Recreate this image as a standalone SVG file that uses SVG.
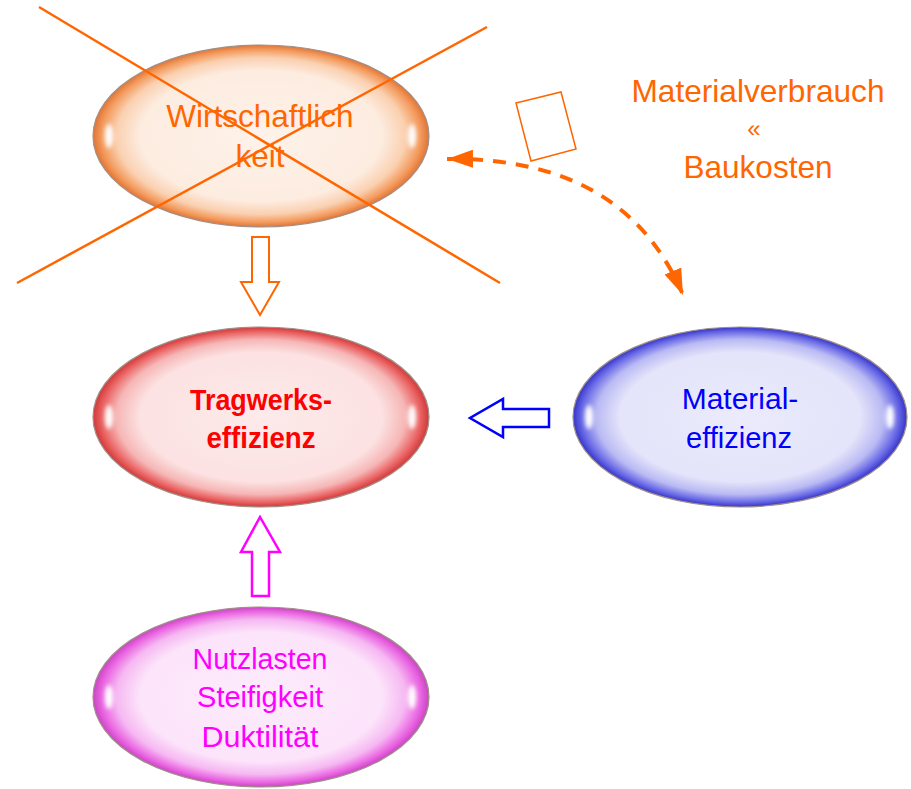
<svg xmlns="http://www.w3.org/2000/svg" width="911" height="789" viewBox="0 0 911 789">
<style>
  text { font-family: "Liberation Sans", Arial, sans-serif; text-anchor: middle; }
  .node-shape { stroke: #a09088; stroke-width: 1.2; }
  .hl { fill: #ffffff; filter: url(#blur); }
  .orange { fill: #FF6600; }
  .conn-outline { fill: #ffffff; stroke-linejoin: miter; }
</style>
<defs>
  <filter id="blur" x="-2" y="-1" width="5" height="3"><feGaussianBlur stdDeviation="2.2"/></filter>
  <radialGradient id="gOrange" cx="0.5" cy="0.5" r="0.5">
    <stop offset="0" stop-color="#FEF2EA"/>
    <stop offset="0.72" stop-color="#FDECE0"/>
    <stop offset="0.86" stop-color="#FAD0B0"/>
    <stop offset="0.95" stop-color="#F39A5C"/>
    <stop offset="1" stop-color="#E07436"/>
  </radialGradient>
  <radialGradient id="gRed" cx="0.5" cy="0.5" r="0.5">
    <stop offset="0" stop-color="#FDEAEA"/>
    <stop offset="0.72" stop-color="#FCE2E2"/>
    <stop offset="0.86" stop-color="#F6B6B6"/>
    <stop offset="0.95" stop-color="#EA6262"/>
    <stop offset="1" stop-color="#D03838"/>
  </radialGradient>
  <radialGradient id="gBlue" cx="0.5" cy="0.5" r="0.5">
    <stop offset="0" stop-color="#EBEBFC"/>
    <stop offset="0.72" stop-color="#E4E4FA"/>
    <stop offset="0.86" stop-color="#BABAF4"/>
    <stop offset="0.95" stop-color="#6868E6"/>
    <stop offset="1" stop-color="#3434C8"/>
  </radialGradient>
  <radialGradient id="gMagenta" cx="0.5" cy="0.5" r="0.5">
    <stop offset="0" stop-color="#FDEBFC"/>
    <stop offset="0.72" stop-color="#FCE4FA"/>
    <stop offset="0.86" stop-color="#F6B8F2"/>
    <stop offset="0.95" stop-color="#EA66E2"/>
    <stop offset="1" stop-color="#C844C2"/>
  </radialGradient>
  <marker id="head" viewBox="0 0 26 18" refX="26" refY="9" markerWidth="26" markerHeight="18" markerUnits="userSpaceOnUse" orient="auto-start-reverse">
    <path d="M0,0 L26,9 L0,18 z" fill="#FF6600"/>
  </marker>
</defs>

<g id="node-wirtschaftlichkeit">
  <ellipse class="node-shape" cx="261" cy="136" rx="168" ry="91" fill="url(#gOrange)"/>
  <ellipse class="hl" cx="109" cy="136" rx="4" ry="12"/>
  <ellipse class="hl" cx="412" cy="136" rx="4" ry="12"/>
  <text x="260" y="127" font-size="31.5" fill="#FF6600">Wirtschaftlich</text>
  <text x="260" y="167" font-size="31.5" fill="#FF6600">keit</text>
</g>

<g id="node-tragwerkseffizienz">
  <ellipse class="node-shape" cx="261" cy="417" rx="168" ry="90" fill="url(#gRed)"/>
  <ellipse class="hl" cx="109" cy="417" rx="4" ry="12"/>
  <ellipse class="hl" cx="412" cy="417" rx="4" ry="12"/>
  <text x="261" y="410" font-size="30" font-weight="bold" fill="#FF0000" textLength="142" lengthAdjust="spacingAndGlyphs">Tragwerks-</text>
  <text x="261" y="448" font-size="30" font-weight="bold" fill="#FF0000" textLength="109" lengthAdjust="spacingAndGlyphs">effizienz</text>
</g>

<g id="node-materialeffizienz">
  <ellipse class="node-shape" cx="740" cy="417" rx="167" ry="90" fill="url(#gBlue)"/>
  <ellipse class="hl" cx="589" cy="417" rx="4" ry="12"/>
  <ellipse class="hl" cx="890" cy="417" rx="4" ry="12"/>
  <text x="740" y="409" font-size="30" fill="#0000FF">Material-</text>
  <text x="739" y="448" font-size="30" fill="#0000FF" textLength="106" lengthAdjust="spacingAndGlyphs">effizienz</text>
</g>

<g id="node-nutzlasten">
  <ellipse class="node-shape" cx="261" cy="697" rx="168" ry="90" fill="url(#gMagenta)"/>
  <ellipse class="hl" cx="109" cy="697" rx="4" ry="12"/>
  <ellipse class="hl" cx="412" cy="697" rx="4" ry="12"/>
  <text x="260" y="669" font-size="29" fill="#FF00FF" textLength="135" lengthAdjust="spacingAndGlyphs">Nutzlasten</text>
  <text x="260" y="707" font-size="29" fill="#FF00FF" textLength="126" lengthAdjust="spacingAndGlyphs">Steifigkeit</text>
  <text x="260" y="747" font-size="29" fill="#FF00FF" textLength="117" lengthAdjust="spacingAndGlyphs">Duktilität</text>
</g>

<g id="cross" stroke="#FF6600" stroke-width="2.5" fill="none">
  <line x1="39" y1="7" x2="500" y2="283"/>
  <line x1="17" y1="283" x2="487" y2="27"/>
</g>

<g id="annotation">
  <polygon points="516,103 561,92 576,149 531,161" fill="#ffffff" stroke="#FF6600" stroke-width="1.5"/>
  <text x="758" y="102" font-size="31.5" class="orange" textLength="253" lengthAdjust="spacingAndGlyphs">Materialverbrauch</text>
  <text x="754" y="137" font-size="24" class="orange">«</text>
  <text x="758" y="178" font-size="31.5" class="orange">Baukosten</text>
</g>

<g id="connectors">
  <polygon class="conn-outline" points="252,237 269,237 269,282 279,282 260,315 241,282 252,282" stroke="#FF6600" stroke-width="2"/>
  <polygon class="conn-outline" points="549,409 503,409 503,399 470,418 503,437 503,427 549,427" stroke="#0000FF" stroke-width="2.5"/>
  <polygon class="conn-outline" points="252,596 252,552 241,552 260,517 280,552 269,552 269,596" stroke="#FF00FF" stroke-width="2.5"/>
  <path d="M447,159 Q625,157 683,295" fill="none" stroke="#FF6600" stroke-width="4" stroke-dasharray="13,10" marker-start="url(#head)" marker-end="url(#head)"/>
</g>
</svg>
